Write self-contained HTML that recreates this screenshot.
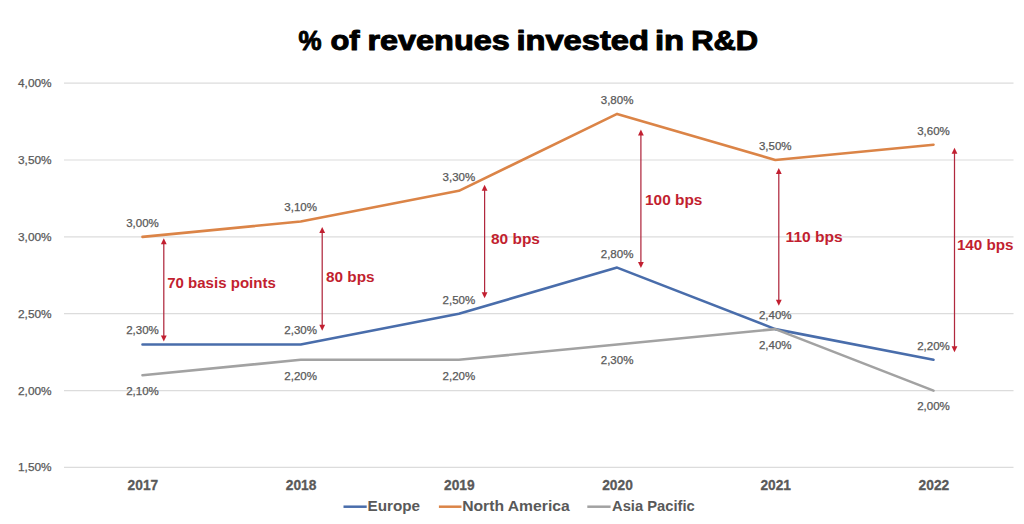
<!DOCTYPE html>
<html><head><meta charset="utf-8"><style>
html,body{margin:0;padding:0;background:#fff;}
svg{display:block;}
text{font-family:"Liberation Sans", sans-serif;}
.ax{font-size:11.3px;fill:#595959;stroke:#595959;stroke-width:0.25px;}
.dl{font-size:11px;fill:#595959;stroke:#595959;stroke-width:0.25px;}
.yr{font-size:14.3px;font-weight:bold;fill:#595959;stroke:#595959;stroke-width:0.3px;}
.an{font-size:14.8px;font-weight:bold;fill:#c21f30;}
.lg{font-size:14px;font-weight:bold;fill:#595959;}
.ti{font-size:27.5px;font-weight:bold;fill:#000;}
</style></head><body>
<svg width="1024" height="524" viewBox="0 0 1024 524">
<rect width="1024" height="524" fill="#fff"/>
<line x1="64" y1="83.2" x2="1013.5" y2="83.2" stroke="#dcdcdc" stroke-width="1.2"/>
<text x="51.6" y="87.1" text-anchor="end" class="ax" textLength="33.6" lengthAdjust="spacingAndGlyphs">4,00%</text>
<line x1="64" y1="160.0" x2="1013.5" y2="160.0" stroke="#dcdcdc" stroke-width="1.2"/>
<text x="51.6" y="163.9" text-anchor="end" class="ax" textLength="33.6" lengthAdjust="spacingAndGlyphs">3,50%</text>
<line x1="64" y1="236.9" x2="1013.5" y2="236.9" stroke="#dcdcdc" stroke-width="1.2"/>
<text x="51.6" y="240.8" text-anchor="end" class="ax" textLength="33.6" lengthAdjust="spacingAndGlyphs">3,00%</text>
<line x1="64" y1="313.7" x2="1013.5" y2="313.7" stroke="#dcdcdc" stroke-width="1.2"/>
<text x="51.6" y="317.6" text-anchor="end" class="ax" textLength="33.6" lengthAdjust="spacingAndGlyphs">2,50%</text>
<line x1="64" y1="390.6" x2="1013.5" y2="390.6" stroke="#dcdcdc" stroke-width="1.2"/>
<text x="51.6" y="394.5" text-anchor="end" class="ax" textLength="33.6" lengthAdjust="spacingAndGlyphs">2,00%</text>
<line x1="64" y1="467.4" x2="1013.5" y2="467.4" stroke="#dcdcdc" stroke-width="1.2"/>
<text x="51.6" y="471.3" text-anchor="end" class="ax" textLength="33.6" lengthAdjust="spacingAndGlyphs">1,50%</text>
<text x="142.9" y="490" text-anchor="middle" class="yr" textLength="30.6" lengthAdjust="spacingAndGlyphs">2017</text>
<text x="301.1" y="490" text-anchor="middle" class="yr" textLength="30.6" lengthAdjust="spacingAndGlyphs">2018</text>
<text x="459.3" y="490" text-anchor="middle" class="yr" textLength="30.6" lengthAdjust="spacingAndGlyphs">2019</text>
<text x="617.5" y="490" text-anchor="middle" class="yr" textLength="30.6" lengthAdjust="spacingAndGlyphs">2020</text>
<text x="775.7" y="490" text-anchor="middle" class="yr" textLength="30.6" lengthAdjust="spacingAndGlyphs">2021</text>
<text x="933.9" y="490" text-anchor="middle" class="yr" textLength="30.6" lengthAdjust="spacingAndGlyphs">2022</text>
<polyline points="142.5,344.5 300.7,344.5 458.9,313.7 617.1,267.6 775.3,329.1 933.5,359.8" fill="none" stroke="#496dab" stroke-width="2.6" stroke-linejoin="round" stroke-linecap="round"/>
<polyline points="142.5,236.9 300.7,221.5 458.9,190.8 617.1,113.9 775.3,160.0 933.5,144.7" fill="none" stroke="#db8447" stroke-width="2.6" stroke-linejoin="round" stroke-linecap="round"/>
<polyline points="142.5,375.2 300.7,359.8 458.9,359.8 617.1,344.5 775.3,329.1 933.5,390.6" fill="none" stroke="#a2a2a2" stroke-width="2.6" stroke-linejoin="round" stroke-linecap="round"/>
<text x="142.5" y="226.8" text-anchor="middle" class="dl" textLength="32.7" lengthAdjust="spacingAndGlyphs">3,00%</text>
<text x="300.7" y="211.4" text-anchor="middle" class="dl" textLength="32.7" lengthAdjust="spacingAndGlyphs">3,10%</text>
<text x="458.9" y="180.7" text-anchor="middle" class="dl" textLength="32.7" lengthAdjust="spacingAndGlyphs">3,30%</text>
<text x="617.1" y="103.8" text-anchor="middle" class="dl" textLength="32.7" lengthAdjust="spacingAndGlyphs">3,80%</text>
<text x="775.3" y="149.9" text-anchor="middle" class="dl" textLength="32.7" lengthAdjust="spacingAndGlyphs">3,50%</text>
<text x="933.5" y="134.6" text-anchor="middle" class="dl" textLength="32.7" lengthAdjust="spacingAndGlyphs">3,60%</text>
<text x="142.5" y="334.4" text-anchor="middle" class="dl" textLength="32.7" lengthAdjust="spacingAndGlyphs">2,30%</text>
<text x="300.7" y="334.4" text-anchor="middle" class="dl" textLength="32.7" lengthAdjust="spacingAndGlyphs">2,30%</text>
<text x="458.9" y="303.6" text-anchor="middle" class="dl" textLength="32.7" lengthAdjust="spacingAndGlyphs">2,50%</text>
<text x="617.1" y="257.5" text-anchor="middle" class="dl" textLength="32.7" lengthAdjust="spacingAndGlyphs">2,80%</text>
<text x="775.3" y="319.0" text-anchor="middle" class="dl" textLength="32.7" lengthAdjust="spacingAndGlyphs">2,40%</text>
<text x="933.5" y="349.7" text-anchor="middle" class="dl" textLength="32.7" lengthAdjust="spacingAndGlyphs">2,20%</text>
<text x="142.5" y="394.9" text-anchor="middle" class="dl" textLength="32.7" lengthAdjust="spacingAndGlyphs">2,10%</text>
<text x="300.7" y="379.5" text-anchor="middle" class="dl" textLength="32.7" lengthAdjust="spacingAndGlyphs">2,20%</text>
<text x="458.9" y="379.5" text-anchor="middle" class="dl" textLength="32.7" lengthAdjust="spacingAndGlyphs">2,20%</text>
<text x="617.1" y="364.2" text-anchor="middle" class="dl" textLength="32.7" lengthAdjust="spacingAndGlyphs">2,30%</text>
<text x="775.3" y="348.8" text-anchor="middle" class="dl" textLength="32.7" lengthAdjust="spacingAndGlyphs">2,40%</text>
<text x="933.5" y="410.3" text-anchor="middle" class="dl" textLength="32.7" lengthAdjust="spacingAndGlyphs">2,00%</text>
<line x1="163.8" y1="243.2" x2="163.8" y2="336.6" stroke="#b0283e" stroke-width="1.25"/>
<path d="M163.8 238.2 L166.70000000000002 244.2 L160.9 244.2 Z" fill="#c21f30"/>
<path d="M163.8 341.6 L166.70000000000002 335.6 L160.9 335.6 Z" fill="#c21f30"/>
<line x1="322.2" y1="231.9" x2="322.2" y2="325.7" stroke="#b0283e" stroke-width="1.25"/>
<path d="M322.2 226.9 L325.09999999999997 232.9 L319.3 232.9 Z" fill="#c21f30"/>
<path d="M322.2 330.7 L325.09999999999997 324.7 L319.3 324.7 Z" fill="#c21f30"/>
<line x1="484.6" y1="189.7" x2="484.6" y2="293.2" stroke="#b0283e" stroke-width="1.25"/>
<path d="M484.6 184.7 L487.5 190.7 L481.70000000000005 190.7 Z" fill="#c21f30"/>
<path d="M484.6 298.2 L487.5 292.2 L481.70000000000005 292.2 Z" fill="#c21f30"/>
<line x1="640.9" y1="134.5" x2="640.9" y2="263.1" stroke="#b0283e" stroke-width="1.25"/>
<path d="M640.9 129.5 L643.8 135.5 L638.0 135.5 Z" fill="#c21f30"/>
<path d="M640.9 268.1 L643.8 262.1 L638.0 262.1 Z" fill="#c21f30"/>
<line x1="778.8" y1="172.9" x2="778.8" y2="300.8" stroke="#b0283e" stroke-width="1.25"/>
<path d="M778.8 167.9 L781.6999999999999 173.9 L775.9 173.9 Z" fill="#c21f30"/>
<path d="M778.8 305.8 L781.6999999999999 299.8 L775.9 299.8 Z" fill="#c21f30"/>
<line x1="954.5" y1="152.8" x2="954.5" y2="347.2" stroke="#b0283e" stroke-width="1.25"/>
<path d="M954.5 147.8 L957.4 153.8 L951.6 153.8 Z" fill="#c21f30"/>
<path d="M954.5 352.2 L957.4 346.2 L951.6 346.2 Z" fill="#c21f30"/>
<text x="167.2" y="287.6" class="an" textLength="108.6" lengthAdjust="spacingAndGlyphs">70 basis points</text>
<text x="326.0" y="281.6" class="an" textLength="48.6" lengthAdjust="spacingAndGlyphs">80 bps</text>
<text x="491.0" y="244.2" class="an" textLength="48.9" lengthAdjust="spacingAndGlyphs">80 bps</text>
<text x="645.0" y="204.6" class="an" textLength="57.4" lengthAdjust="spacingAndGlyphs">100 bps</text>
<text x="785.6" y="241.6" class="an" textLength="57.1" lengthAdjust="spacingAndGlyphs">110 bps</text>
<text x="956.9" y="249.6" class="an" textLength="56.7" lengthAdjust="spacingAndGlyphs">140 bps</text>
<line x1="343.5" y1="506.7" x2="366.7" y2="506.7" stroke="#496dab" stroke-width="2.5"/>
<text x="367.6" y="511.2" class="lg" textLength="52.5" lengthAdjust="spacingAndGlyphs">Europe</text>
<line x1="438.9" y1="506.7" x2="461.5" y2="506.7" stroke="#db8447" stroke-width="2.5"/>
<text x="462.2" y="511.2" class="lg" textLength="107.5" lengthAdjust="spacingAndGlyphs">North America</text>
<line x1="587.3" y1="506.7" x2="610.6" y2="506.7" stroke="#a2a2a2" stroke-width="2.5"/>
<text x="612.0" y="511.2" class="lg" textLength="82.7" lengthAdjust="spacingAndGlyphs">Asia Pacific</text>
<text x="298.60" y="49.8" class="ti" stroke="#000" stroke-width="1.0" stroke-linejoin="round" textLength="23.00" lengthAdjust="spacingAndGlyphs">%</text>
<text x="330.40" y="49.8" class="ti" stroke="#000" stroke-width="1.0" stroke-linejoin="round" textLength="29.20" lengthAdjust="spacingAndGlyphs">of</text>
<text x="367.40" y="49.8" class="ti" stroke="#000" stroke-width="1.0" stroke-linejoin="round" textLength="142.40" lengthAdjust="spacingAndGlyphs">revenues</text>
<text x="516.40" y="49.8" class="ti" stroke="#000" stroke-width="1.0" stroke-linejoin="round" textLength="132.60" lengthAdjust="spacingAndGlyphs">invested</text>
<text x="655.00" y="49.8" class="ti" stroke="#000" stroke-width="1.0" stroke-linejoin="round" textLength="29.20" lengthAdjust="spacingAndGlyphs">in</text>
<text x="691.20" y="49.8" class="ti" stroke="#000" stroke-width="1.0" stroke-linejoin="round" textLength="67.00" lengthAdjust="spacingAndGlyphs">R&amp;D</text>
</svg>
</body></html>
